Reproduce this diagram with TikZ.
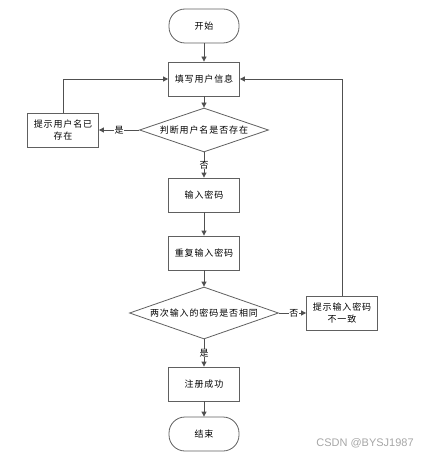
\documentclass[tikz,border=0pt]{standalone}
\usepackage{fontspec}
\newfontfamily\cjk[LetterSpace=10]{Noto Sans CJK SC}
\newfontfamily\wmfont{Liberation Sans}
\usetikzlibrary{shapes.geometric,arrows.meta}
\definecolor{linec}{HTML}{505050}
\definecolor{boxc}{HTML}{606060}
\begin{document}
\begin{tikzpicture}[x=1pt,y=-1pt,
  every node/.style={font=\cjk\fontsize{9}{11.5}\selectfont, text=black},
  procbox/.style={draw=boxc, line width=0.8pt, fill=white, minimum width=71pt, minimum height=34pt, inner sep=1pt, align=center},
  termbox/.style={draw=boxc, line width=0.8pt, fill=white, rounded corners=16pt, minimum width=70pt, minimum height=34pt},
  decbox/.style={draw=boxc, line width=0.8pt, fill=white, diamond, inner sep=0pt},
  conn/.style={draw=linec, line width=0.8pt, -{Triangle[length=5pt,width=5pt]}},
  lbl/.style={fill=white, inner sep=0.5pt}
]
\useasboundingbox (0,0) rectangle (438,457);
\node[termbox] (start) at (204,26) {开始};
\node[procbox] (fill) at (204,79) {填写用户信息};
\node[decbox, aspect=2.93, minimum width=129pt, minimum height=44pt] (d1) at (204,130) {判断用户名是否存在};
\node[procbox] (exists) at (63,130) {提示用户名已\\存在};
\node[procbox] (pwd) at (204,195) {输入密码};
\node[procbox] (rep) at (204,253) {重复输入密码};
\node[decbox, aspect=2.87, minimum width=149pt, minimum height=52pt] (d2) at (204,313) {两次输入的密码是否相同};
\node[procbox] (mis) at (342,313) {提示输入密码\\不一致};
\node[procbox] (ok) at (204,384) {注册成功};
\node[termbox] (end) at (204,434) {结束};

\draw[conn] (start) -- (fill);
\draw[conn] (fill) -- (d1);
\draw[conn] (d1.west) -- node[lbl, pos=0.5] {是} (exists.east);
\draw[conn] (exists.north) |- (fill.west);
\draw[conn] (d1.south) -- node[lbl, pos=0.5] {否} (pwd.north);
\draw[conn] (pwd) -- (rep);
\draw[conn] (rep) -- (d2);
\draw[conn] (d2.east) -- node[lbl, pos=0.55] {否} (mis.west);
\draw[conn] (mis.north) |- (fill.east);
\draw[conn] (d2.south) -- node[lbl, pos=0.5] {是} (ok.north);
\draw[conn] (ok) -- (end);

\node[font=\wmfont\fontsize{11}{13}\selectfont, text=gray!70] (wm) at (365,443) {CSDN @BYSJ1987};
\end{tikzpicture}
\end{document}
